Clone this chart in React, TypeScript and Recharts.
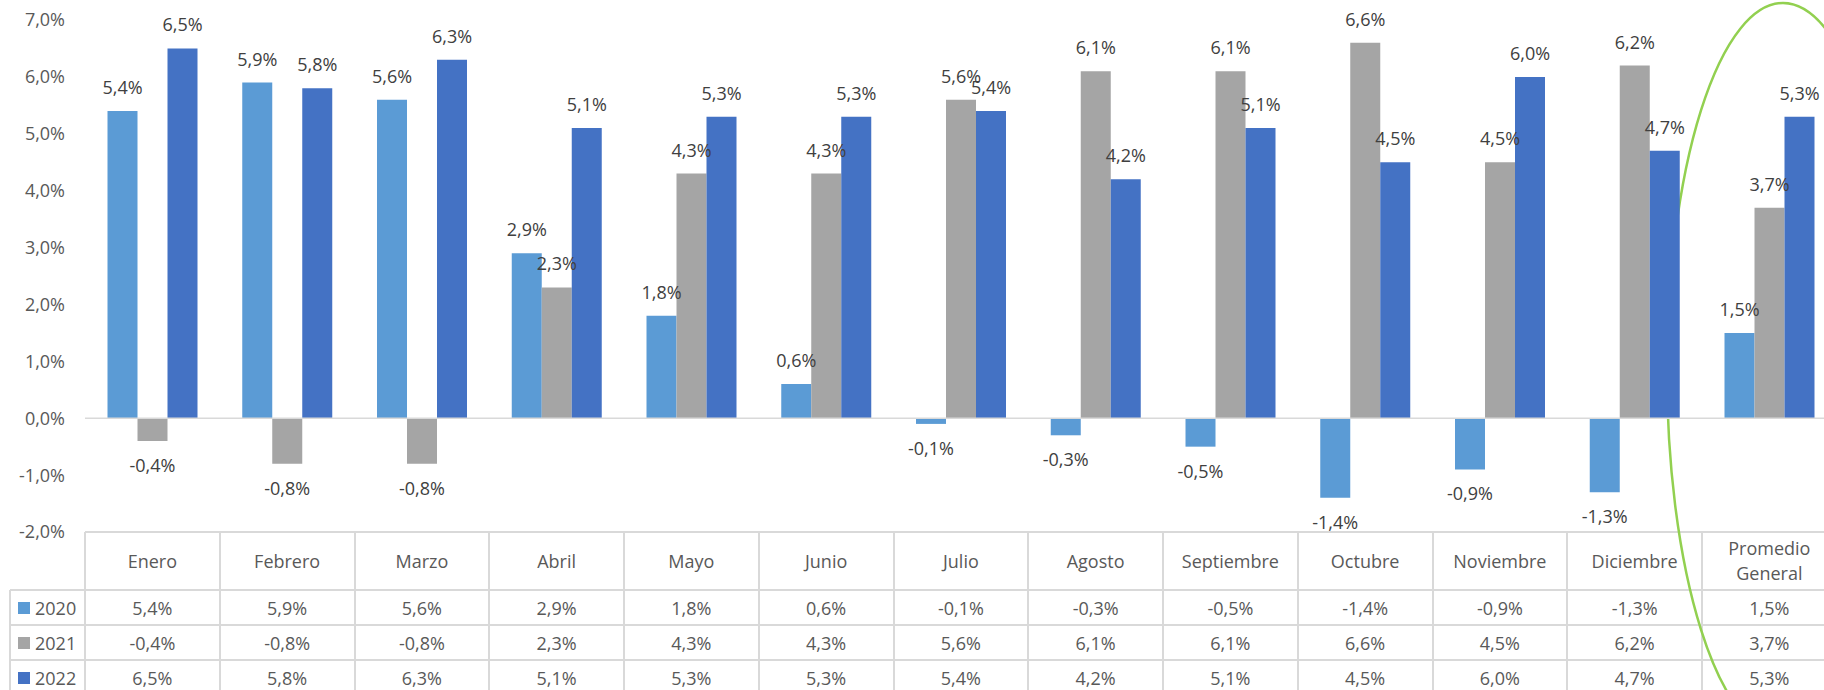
import { Bar, BarChart, LabelList, ReferenceLine, XAxis, YAxis } from "recharts";

const categories = [
  "Enero",
  "Febrero",
  "Marzo",
  "Abril",
  "Mayo",
  "Junio",
  "Julio",
  "Agosto",
  "Septiembre",
  "Octubre",
  "Noviembre",
  "Diciembre",
  "Promedio General",
];
const values2020 = [5.4, 5.9, 5.6, 2.9, 1.8, 0.6, -0.1, -0.3, -0.5, -1.4, -0.9, -1.3, 1.5];
const values2021 = [-0.4, -0.8, -0.8, 2.3, 4.3, 4.3, 5.6, 6.1, 6.1, 6.6, 4.5, 6.2, 3.7];
const values2022 = [6.5, 5.8, 6.3, 5.1, 5.3, 5.3, 5.4, 4.2, 5.1, 4.5, 6.0, 4.7, 5.3];
const yTicks = [-2, -1, 0, 1, 2, 3, 4, 5, 6, 7];

const series = [
  { key: "y2020", name: "2020", values: values2020, color: "#5B9BD5" },
  { key: "y2021", name: "2021", values: values2021, color: "#A5A5A5" },
  { key: "y2022", name: "2022", values: values2022, color: "#4472C4" },
];

const FONT = "'Open Sans', sans-serif";
const TEXT = "#595959";
const GRID = "#D9D9D9";

// layout (page pixels)
const PLOT_LEFT = 85;
const PLOT_TOP = 20;
const PLOT_BOTTOM = 532;
const EXTRA_BOTTOM = 30; // room for the lowest tick label to spill over the table edge
const BAND = 134.75;
const HEADER_H = 58;
const ROW_H = 35;
const LEGEND_LEFT = 10;

const fmt = (v: number) => v.toFixed(1).replace(".", ",") + "%";

const rows = categories.map((name, i) => ({
  name,
  y2020: values2020[i],
  y2021: values2021[i],
  y2022: values2022[i],
}));

function renderLabel(props: any) {
  const { x, y, width, height, value } = props;
  const v = Number(value);
  const top = Math.min(y, y + height);
  const bottom = Math.max(y, y + height);
  const cy = v >= 0 ? top - 24 : bottom + 24;
  return (
    <text
      x={x + width / 2}
      y={cy}
      textAnchor="middle"
      dominantBaseline="central"
      fill="#404040"
      fontSize={18}
      fontFamily={FONT}
    >
      {fmt(v)}
    </text>
  );
}

function DataTable() {
  const right = PLOT_LEFT + BAND * categories.length;
  const lines: JSX.Element[] = [];
  // horizontal rules
  lines.push(
    <div key="h0" style={{ position: "absolute", left: PLOT_LEFT, top: PLOT_BOTTOM - 1, width: right - PLOT_LEFT, height: 2, background: GRID }} />
  );
  for (let r = 0; r < series.length; r++) {
    const top = PLOT_BOTTOM + HEADER_H + r * ROW_H;
    lines.push(
      <div key={`h${r + 1}`} style={{ position: "absolute", left: LEGEND_LEFT, top: top - 1, width: right - LEGEND_LEFT, height: 2, background: GRID }} />
    );
  }
  // vertical rules
  lines.push(
    <div key="vl" style={{ position: "absolute", left: LEGEND_LEFT - 1, top: PLOT_BOTTOM + HEADER_H, width: 2, height: 200, background: GRID }} />
  );
  for (let c = 0; c <= categories.length; c++) {
    lines.push(
      <div key={`v${c}`} style={{ position: "absolute", left: PLOT_LEFT + c * BAND - 1, top: PLOT_BOTTOM, width: 2, height: 200, background: GRID }} />
    );
  }

  return (
    <div style={{ position: "absolute", left: 0, top: 0, width: 1824, height: 690, zIndex: 0, fontFamily: FONT, fontSize: 18, color: TEXT }}>
      {lines}
      {categories.map((c, i) => (
        <div
          key={c}
          style={{
            position: "absolute",
            left: PLOT_LEFT + i * BAND,
            top: PLOT_BOTTOM,
            width: BAND,
            height: HEADER_H,
            display: "flex",
            alignItems: "center",
            justifyContent: "center",
            textAlign: "center",
            lineHeight: "25px",
            padding: "0 14px",
            boxSizing: "border-box",
          }}
        >
          {c}
        </div>
      ))}
      {series.map((s, r) => {
        const top = PLOT_BOTTOM + HEADER_H + r * ROW_H;
        return (
          <div key={s.key}>
            <div style={{ position: "absolute", left: 18, top, height: ROW_H, display: "flex", alignItems: "center" }}>
              <span style={{ display: "inline-block", width: 12, height: 12, background: s.color, marginRight: 5 }} />
              <span>{s.name}</span>
            </div>
            {s.values.map((v, i) => (
              <div
                key={i}
                style={{
                  position: "absolute",
                  left: PLOT_LEFT + i * BAND,
                  top,
                  width: BAND,
                  height: ROW_H,
                  display: "flex",
                  alignItems: "center",
                  justifyContent: "center",
                }}
              >
                {fmt(v)}
              </div>
            ))}
          </div>
        );
      })}
    </div>
  );
}

export default function App() {
  const chartWidth = PLOT_LEFT + BAND * categories.length;
  return (
    <div style={{ position: "absolute", left: 0, top: 0, width: 1824, height: 690, overflow: "hidden", background: "#fff" }}>
      <DataTable />
      {/* highlight around the overall average */}
      <svg width={1824} height={690} style={{ position: "absolute", left: 0, top: 0, zIndex: 1 }}>
        <ellipse cx={1783} cy={370} rx={116} ry={367} fill="none" stroke="#92D050" strokeWidth={2.5} />
      </svg>
      <div style={{ position: "absolute", left: 0, top: 0, zIndex: 2 }}>
        <BarChart
          width={chartWidth}
          height={PLOT_BOTTOM + EXTRA_BOTTOM}
          data={rows}
          margin={{ top: PLOT_TOP, right: 0, bottom: EXTRA_BOTTOM, left: 0 }}
          barCategoryGap="16.7%"
          barGap={0}
        >
          <XAxis dataKey="name" hide />
          <YAxis
            width={PLOT_LEFT}
            domain={[-2, 7]}
            ticks={yTicks}
            interval={0}
            axisLine={false}
            tickLine={false}
            tickSize={0}
            tickMargin={20}
            tick={{ fill: TEXT, fontSize: 18, fontFamily: FONT }}
            tickFormatter={fmt}
          />
          <ReferenceLine y={0} stroke={GRID} strokeWidth={1.5} />
          {series.map((s) => (
            <Bar key={s.key} dataKey={s.key} name={s.name} fill={s.color} isAnimationActive={false}>
              <LabelList dataKey={s.key} content={renderLabel} />
            </Bar>
          ))}
        </BarChart>
      </div>
    </div>
  );
}
